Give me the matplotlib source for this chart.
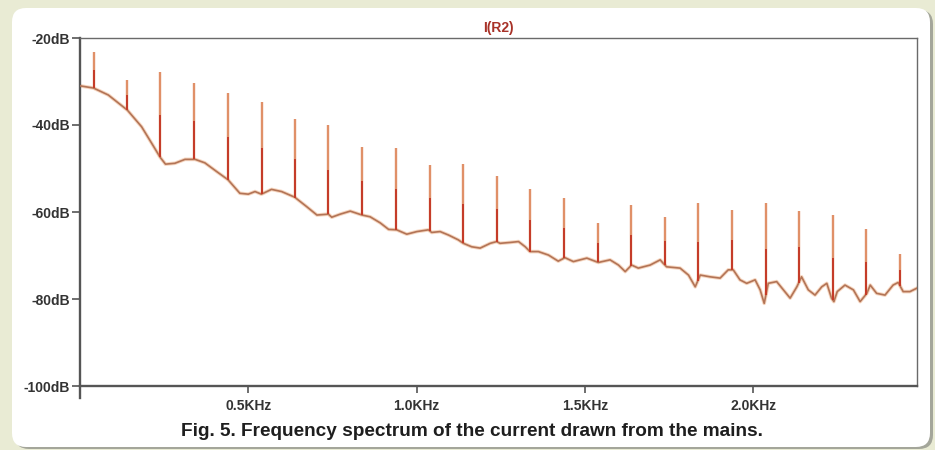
import matplotlib.pyplot as plt
import matplotlib.patches as mpatches
import numpy as np

plt.rcParams['font.family'] = ['Liberation Sans', 'DejaVu Sans']

# smooth background of the spectrum (Hz, dB)
base_f = [0, 40, 84, 141, 183, 213, 238, 254, 282, 312, 342, 371, 406, 440, 475,
          500, 520, 539, 569, 599, 638, 674, 704, 738, 748, 773, 803, 838, 862,
          892, 917, 941, 971, 1001, 1035, 1045, 1070, 1095, 1124, 1139, 1164,
          1189, 1219, 1238, 1248, 1278, 1303, 1323, 1337, 1362, 1392, 1421,
          1441, 1466, 1506, 1540, 1575, 1600, 1620, 1639, 1659, 1694, 1724,
          1733, 1743, 1783, 1808, 1828, 1843, 1872, 1902, 1926, 1941, 1961,
          1981, 2006, 2021, 2033, 2045, 2070, 2090, 2110, 2130, 2144, 2164,
          2184, 2204, 2219, 2233, 2240, 2250, 2273, 2298, 2318, 2338, 2348,
          2367, 2392, 2416, 2431, 2446, 2466, 2487]
base_db = [-31.0, -31.5, -33.1, -36.6, -40.4, -44.2, -47.4, -49.0, -48.8, -47.9,
           -47.9, -48.7, -50.7, -52.6, -55.7, -55.9, -55.3, -55.9, -54.8, -55.3,
           -56.6, -58.8, -60.7, -60.5, -61.2, -60.5, -59.8, -60.7, -61.1, -62.5,
           -64.0, -64.1, -65.1, -64.5, -64.1, -64.7, -64.5, -65.3, -66.4, -67.2,
           -68.0, -68.3, -67.2, -66.8, -67.2, -67.0, -66.8, -68.0, -69.1, -69.1,
           -69.9, -71.3, -70.5, -71.4, -70.6, -71.6, -71.0, -72.2, -73.7, -72.2,
           -72.9, -72.2, -71.0, -71.8, -72.6, -72.9, -74.5, -77.2, -74.5, -74.9,
           -75.2, -73.3, -73.3, -75.6, -76.4, -75.6, -77.9, -81.0, -76.4, -76.0,
           -77.9, -79.8, -77.2, -74.9, -77.9, -79.1, -77.2, -76.4, -79.8, -80.6,
           -78.3, -76.8, -77.9, -80.6, -78.7, -76.8, -78.7, -79.1, -76.8, -76.2,
           -78.3, -78.3, -77.5]

# harmonic lines: position (Hz) and peak level (dB)
harm_f = [42, 140, 238, 339, 441, 541, 640, 737, 838, 939, 1040, 1138, 1239,
          1337, 1438, 1539, 1637, 1738, 1836, 1937, 2038, 2136, 2237, 2335, 2436]
harm_db = [-23.3, -29.7, -27.9, -30.3, -32.6, -34.6, -38.7, -40.0, -45.0, -45.2,
           -49.2, -49.0, -51.7, -54.7, -56.7, -62.6, -58.4, -61.2, -58.0, -59.5,
           -58.0, -59.8, -60.8, -64.0, -69.7]

y_ticks = [-20, -40, -60, -80, -100]
y_labels = ['-20dB', '-40dB', '-60dB', '-80dB', '-100dB']
x_ticks = [500, 1000, 1500, 2000]
x_labels = ['0.5KHz', '1.0KHz', '1.5KHz', '2.0KHz']

fig = plt.figure(figsize=(9.35, 4.5), dpi=100)
fig.patch.set_facecolor('#e9ebd4')

# white rounded panel with a soft shadow
shadow = mpatches.FancyBboxPatch((15, 1), 918, 439, boxstyle='round,pad=0,rounding_size=14',
                                 transform=None, facecolor='#a4a69a', edgecolor='none', zorder=-2)
panel = mpatches.FancyBboxPatch((12, 3), 918, 439, boxstyle='round,pad=0,rounding_size=14',
                                transform=None, facecolor='white', edgecolor='none', zorder=-1)
fig.patches.extend([shadow, panel])

ax = fig.add_axes([80 / 935, 64 / 450, 837 / 935, 348 / 450])
ax.set_facecolor('white')

# background curve with light halo
ax.plot(base_f, base_db, color='#f2c4a4', linewidth=2.6, alpha=0.7, zorder=2)
ax.plot(base_f, base_db, color='#b37456', linewidth=1.2, zorder=3)

# harmonic spikes, lighter at the top and red near the base
h_base = np.interp(harm_f, base_f, base_db)
h_top = np.array(harm_db)
ax.vlines(harm_f, h_base, h_top, color='#e09068', linewidth=1.7, zorder=4)
ax.vlines(harm_f, h_base, h_base + 0.5 * (h_top - h_base), color='#c53a28',
          linewidth=1.4, zorder=5)

ax.set_xlim(0, 2487)
ax.set_ylim(-100, -20)

ax.set_yticks(y_ticks)
ax.set_yticklabels(y_labels)
ax.set_xticks(x_ticks)
ax.set_xticklabels(x_labels)
ax.tick_params(axis='y', direction='out', length=6, width=1.2, color='#555555',
               pad=1, labelsize=10, labelcolor='#333333')
ax.tick_params(axis='x', direction='out', length=5, width=1.2, color='#555555',
               pad=4, labelsize=10, labelcolor='#333333')
for lab in ax.get_xticklabels() + ax.get_yticklabels():
    lab.set_fontweight('bold')

for side in ['left', 'bottom']:
    ax.spines[side].set_linewidth(1.7)
    ax.spines[side].set_color('#555555')
for side in ['top', 'right']:
    ax.spines[side].set_linewidth(1.0)
    ax.spines[side].set_color('#6a6a6a')
ax.spines['left'].set_bounds(-102.8, -20)

ax.set_title('I(R2)', color='#a83228', fontweight='bold', fontsize=10, pad=4)

fig.text(0.505, 1 - 432 / 450, 'Fig. 5. Frequency spectrum of the current drawn from the mains.',
         ha='center', va='center', fontsize=13.7, fontweight='bold', color='#1e1e1e')

fig.savefig('out.png', dpi=100, facecolor=fig.get_facecolor())
